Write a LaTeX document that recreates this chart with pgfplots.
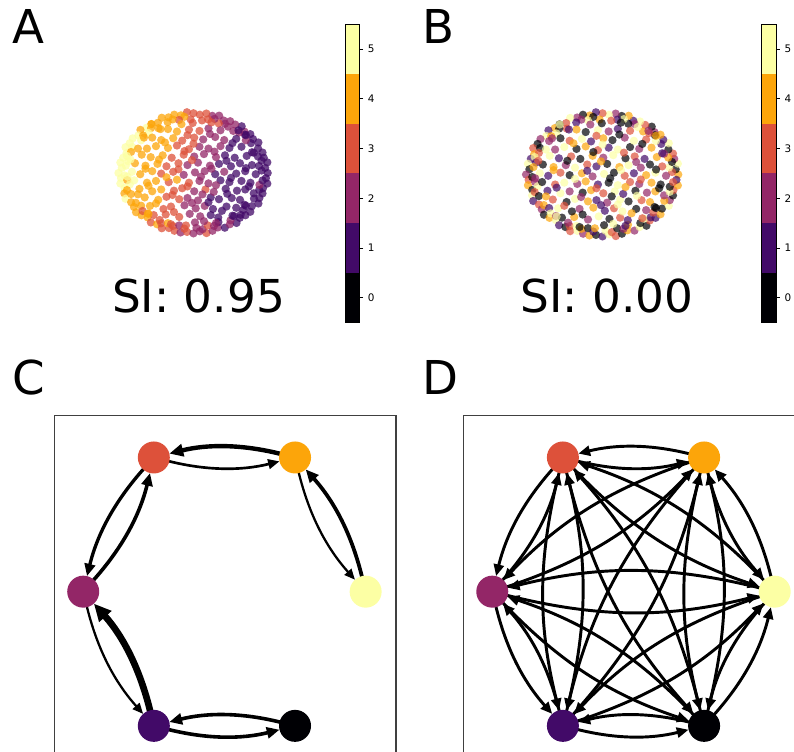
\documentclass[border=0pt]{standalone}
\usepackage{fontspec}
\setmainfont{DejaVu Sans}
\usepackage{pgfplots}
\pgfplotsset{compat=1.18}
\usepackage{pgfplotstable}
\usetikzlibrary{arrows.meta}

% inferno samples used for the six classes
\definecolor{c0}{HTML}{000004}
\definecolor{c1}{HTML}{420A68}
\definecolor{c2}{HTML}{932667}
\definecolor{c3}{HTML}{DD513A}
\definecolor{c4}{HTML}{FCA50A}
\definecolor{c5}{HTML}{FCFFA4}

% embedded points: x y, class in the ordered embedding (a), class in the shuffled one (b)
\pgfplotstableread{
x y a b
0.990 0.000 1 4
0.956 0.084 1 0
0.985 0.174 1 5
0.937 0.251 1 2
0.921 0.335 1 3
0.861 0.402 1 0
0.866 0.500 1 5
0.794 0.557 1 1
0.758 0.637 1 4
0.679 0.679 2 2
0.643 0.766 1 0
0.557 0.794 2 3
0.490 0.849 2 5
0.402 0.861 2 1
0.342 0.940 2 4
0.251 0.937 2 0
0.172 0.975 3 2
0.084 0.956 3 5
0.000 0.980 3 3
-0.087 0.996 3 1
-0.167 0.945 4 4
-0.256 0.956 4 0
-0.332 0.912 4 2
-0.423 0.906 4 5
-0.475 0.823 4 3
-0.562 0.803 4 0
-0.624 0.743 5 4
-0.707 0.707 4 1
-0.735 0.617 5 5
-0.811 0.568 5 2
-0.849 0.490 5 0
-0.906 0.423 5 3
-0.893 0.325 5 4
-0.937 0.251 5 1
-0.975 0.172 5 5
-0.956 0.084 5 0
-1.000 0.000 5 2
-0.966 -0.084 5 3
-0.975 -0.172 5 4
-0.918 -0.246 5 0
-0.921 -0.335 4 5
-0.906 -0.423 5 1
-0.831 -0.480 4 3
-0.794 -0.557 4 2
-0.766 -0.643 4 0
-0.693 -0.693 4 4
-0.611 -0.728 4 5
-0.568 -0.811 3 1
-0.485 -0.840 4 0
-0.423 -0.906 3 3
-0.328 -0.902 3 5
-0.254 -0.947 3 2
-0.172 -0.975 2 4
-0.085 -0.966 3 0
0.000 -0.990 2 1
0.084 -0.956 2 5
0.174 -0.985 3 3
0.254 -0.947 2 0
0.325 -0.893 2 4
0.418 -0.897 1 2
0.485 -0.840 2 5
0.574 -0.819 1 0
0.617 -0.735 1 3
0.693 -0.693 1 1
0.758 -0.636 1 4
0.778 -0.545 1 0
0.866 -0.500 1 5
0.879 -0.410 1 2
0.921 -0.335 1 0
0.927 -0.248 1 3
0.985 -0.174 1 4
0.966 -0.085 1 1
0.909 0.040 1 3
0.872 0.115 1 5
0.908 0.201 1 0
0.859 0.271 1 4
0.804 0.333 1 2
0.767 0.489 1 1
0.698 0.536 2 5
0.685 0.629 1 0
0.608 0.663 2 3
0.530 0.690 2 4
0.420 0.807 2 2
0.337 0.813 3 0
0.280 0.887 2 5
0.194 0.878 3 1
0.114 0.862 3 3
-0.038 0.879 3 4
-0.122 0.922 4 0
-0.192 0.869 3 5
-0.277 0.878 4 2
-0.344 0.832 4 1
-0.467 0.734 4 3
-0.566 0.737 4 0
-0.602 0.656 5 5
-0.671 0.615 4 4
-0.698 0.536 5 2
-0.816 0.425 5 0
-0.832 0.345 4 3
-0.887 0.280 5 5
-0.869 0.192 5 1
-0.902 0.119 5 4
-0.919 -0.040 5 0
-0.882 -0.117 4 2
-0.849 -0.188 5 5
-0.887 -0.280 4 3
-0.832 -0.345 4 0
-0.767 -0.489 4 4
-0.698 -0.536 4 1
-0.678 -0.622 3 5
-0.608 -0.663 4 2
-0.530 -0.690 3 0
-0.430 -0.825 3 3
-0.341 -0.822 4 5
-0.274 -0.868 3 4
-0.190 -0.859 2 0
-0.121 -0.912 3 1
0.039 -0.899 2 5
0.121 -0.922 2 3
0.190 -0.859 3 0
0.274 -0.868 2 2
0.333 -0.804 1 4
0.494 -0.776 2 0
0.542 -0.706 1 5
0.629 -0.685 1 1
0.663 -0.608 1 3
0.698 -0.536 1 0
0.807 -0.420 1 4
0.804 -0.333 1 2
0.877 -0.277 1 5
0.879 -0.195 2 0
0.922 -0.121 1 3
0.02 -0.81 2 0
-0.37 -0.68 3 4
-0.19 -0.72 3 2
-0.05 -0.67 2 5
0.09 -0.71 2 0
0.23 -0.69 1 3
0.33 -0.73 1 1
-0.58 -0.54 4 5
-0.40 -0.59 3 0
-0.30 -0.55 3 2
-0.12 -0.53 2 4
0.03 -0.58 2 1
0.15 -0.54 2 3
0.26 -0.59 1 5
0.44 -0.55 1 0
0.57 -0.57 1 2
-0.65 -0.40 4 3
-0.47 -0.44 4 0
-0.36 -0.39 3 5
-0.19 -0.43 3 4
-0.08 -0.41 2 1
0.06 -0.45 2 2
0.23 -0.40 1 5
0.34 -0.43 1 0
0.51 -0.41 1 3
0.62 -0.44 1 4
-0.72 -0.26 4 1
-0.55 -0.30 4 5
-0.43 -0.27 4 2
-0.26 -0.29 3 0
-0.15 -0.25 3 4
0.01 -0.30 2 3
0.16 -0.27 3 5
0.27 -0.31 2 1
0.43 -0.26 1 0
0.58 -0.29 1 2
0.69 -0.27 1 4
-0.79 -0.12 5 0
-0.62 -0.16 4 3
-0.50 -0.13 4 5
-0.33 -0.15 3 2
-0.22 -0.11 4 4
-0.06 -0.16 3 1
0.08 -0.13 2 0
0.20 -0.17 2 5
0.36 -0.12 1 3
0.48 -0.15 1 2
0.64 -0.13 1 4
0.76 -0.16 1 0
-0.82 0.02 5 5
-0.71 -0.02 4 1
-0.55 0.03 4 3
-0.43 -0.01 3 0
-0.27 0.02 3 4
-0.13 -0.03 2 2
0.02 0.01 2 5
0.15 0.03 2 0
0.29 -0.02 1 3
0.41 0.02 2 1
0.57 -0.01 1 4
0.69 0.03 1 5
0.83 -0.02 1 2
-0.78 0.16 4 0
-0.64 0.12 4 4
-0.48 0.15 4 2
-0.36 0.11 3 5
-0.20 0.16 3 3
-0.08 0.13 2 1
0.06 0.17 2 0
0.22 0.12 2 4
0.34 0.15 1 5
0.50 0.11 1 2
0.62 0.16 1 0
0.78 0.13 1 3
-0.69 0.30 4 5
-0.57 0.26 4 1
-0.41 0.29 4 3
-0.29 0.25 3 0
-0.13 0.30 3 4
0.01 0.27 2 2
0.14 0.31 2 5
0.30 0.26 2 0
0.42 0.29 1 3
0.55 0.25 1 1
0.71 0.28 1 4
-0.62 0.40 4 2
-0.50 0.44 4 5
-0.34 0.41 4 0
-0.22 0.45 3 4
-0.06 0.39 3 3
0.08 0.43 2 1
0.20 0.40 2 5
0.36 0.44 2 0
0.48 0.41 1 2
0.64 0.43 1 4
-0.55 0.58 4 0
-0.43 0.54 4 3
-0.27 0.57 4 5
-0.15 0.53 3 1
0.01 0.58 3 4
0.13 0.55 2 0
0.29 0.59 2 2
0.41 0.54 2 5
0.57 0.56 1 3
-0.34 0.72 4 4
-0.22 0.68 4 0
-0.06 0.71 3 5
0.08 0.69 3 2
0.20 0.73 2 1
0.36 0.70 2 3
-0.01 0.82 3 0
-0.45 -0.77 3 2
0.14 -0.79 2 5
-0.26 -0.64 3 0
0.38 -0.62 1 4
-0.50 -0.50 4 3
-0.02 -0.49 2 1
0.20 -0.48 1 5
0.68 -0.52 1 0
-0.74 -0.35 4 4
-0.28 -0.36 3 2
0.12 -0.35 2 0
0.45 -0.34 1 5
-0.60 -0.21 4 1
-0.08 -0.22 3 3
0.30 -0.20 2 4
0.74 -0.22 1 0
-0.88 -0.06 5 2
-0.36 -0.07 4 5
0.10 -0.06 2 0
0.50 -0.08 1 3
-0.64 0.07 4 4
-0.20 0.06 3 1
0.24 0.07 2 5
0.70 0.08 1 0
-0.84 0.22 5 3
-0.46 0.22 4 0
-0.02 0.21 3 4
0.44 0.20 1 2
-0.74 0.40 4 5
-0.12 0.36 3 0
0.28 0.35 2 3
0.78 0.34 1 1
-0.38 0.50 4 4
0.00 0.48 3 5
0.52 0.49 1 0
-0.66 0.58 4 2
-0.08 0.62 3 3
0.22 0.64 2 0
0.70 0.62 1 4
-0.44 0.72 4 1
0.46 0.76 2 5
-0.16 0.80 4 2
0.24 0.83 3 0
-0.60 -0.67 4 5
0.52 -0.70 1 3
-0.10 -0.86 3 4
0.30 -0.82 2 1
-0.30 -0.84 3 0
0.60 0.70 1 2
-0.56 0.80 4 5
}\pts

% graph nodes on the circular layout
\pgfplotstableread{
id x y
0 0.5 -0.866
1 -0.5 -0.866
2 -1 0
3 -0.5 0.866
4 0.5 0.866
5 1 0
}\gnodes

\pgfplotsset{
  inferno classes/.style={scatter/classes={0={c0},1={c1},2={c2},3={c3},4={c4},5={c5}}},
  cloud/.style={hide axis, scale only axis, clip=false, anchor=center,
    xmin=-1, xmax=1, ymin=-1, ymax=1},
  cbar/.style={scale only axis, anchor=north west, width=11pt, height=223.8pt,
    xmin=0, xmax=1, ymin=-0.5, ymax=5.5, xtick=\empty, ytick={0,...,5},
    ytick pos=right, yticklabel pos=right, tick align=outside,
    major tick length=2.6pt, axis on top,
    axis line style={line width=0.6pt},
    every tick/.style={black, line width=0.6pt},
    yticklabel style={font=\fontsize{7.8}{9}\selectfont},
    /pgf/number format/assume math mode=true},
  graph/.style={scale only axis, anchor=north west, width=256.3pt, height=264.5pt,
    xmin=-1.205, xmax=1.215, ymin=-1.138, ymax=1.138,
    xtick=\empty, ytick=\empty, clip=false,
    axis line style={black!75, line width=0.8pt}},
}
\tikzset{
  edge/.style={-{Triangle[length=5.5pt 1.5, width=4.2pt 1.5]}, shorten >=12pt, shorten <=11pt},
  panel/.style={anchor=base west, inner sep=0pt, font=\fontsize{35}{40}\selectfont},
  score/.style={anchor=base, inner sep=0pt, font=\fontsize{34}{40}\selectfont},
}

\newcommand\colorbarfills{%
  \addplot[fill=c0, draw=none] coordinates {(0,-0.5) (1,-0.5) (1,0.5) (0,0.5)};
  \addplot[fill=c1, draw=none] coordinates {(0,0.5) (1,0.5) (1,1.5) (0,1.5)};
  \addplot[fill=c2, draw=none] coordinates {(0,1.5) (1,1.5) (1,2.5) (0,2.5)};
  \addplot[fill=c3, draw=none] coordinates {(0,2.5) (1,2.5) (1,3.5) (0,3.5)};
  \addplot[fill=c4, draw=none] coordinates {(0,3.5) (1,3.5) (1,4.5) (0,4.5)};
  \addplot[fill=c5, draw=none] coordinates {(0,4.5) (1,4.5) (1,5.5) (0,5.5)};
}

\begin{document}
\begin{tikzpicture}
\path[use as bounding box, clip] (0,0) rectangle (595.5pt,-564pt);

% ---- A: ordered embedding ----
\begin{axis}[cloud, at={(145.1pt,-129.75pt)}, width=112.5pt, height=91.5pt]
  \addplot[scatter, only marks, mark=*, mark size=3.1pt, point meta=explicit symbolic,
    inferno classes, mark options={draw opacity=0, fill opacity=0.75}]
    table[x=x, y=y, meta=a] {\pts};
\end{axis}
\begin{axis}[cbar, at={(258.75pt,-18.2pt)}]
  \colorbarfills
\end{axis}

% ---- B: shuffled embedding ----
\begin{axis}[cloud, at={(451.9pt,-130.9pt)}, width=114.75pt, height=93.75pt]
  \addplot[scatter, only marks, mark=*, mark size=3.1pt, point meta=explicit symbolic,
    inferno classes, mark options={draw opacity=0, fill opacity=0.7}]
    table[x=x, y=y, meta=b] {\pts};
\end{axis}
\begin{axis}[cbar, at={(571.3pt,-18.2pt)}]
  \colorbarfills
\end{axis}

% ---- C: sparse transition graph ----
\begin{axis}[graph, at={(40.7pt,-311.5pt)}]
  \coordinate (n0) at (axis cs:0.5,-0.866);
  \coordinate (n1) at (axis cs:-0.5,-0.866);
  \coordinate (n2) at (axis cs:-1,0);
  \coordinate (n3) at (axis cs:-0.5,0.866);
  \coordinate (n4) at (axis cs:0.5,0.866);
  \coordinate (n5) at (axis cs:1,0);
  \draw[edge, line width=3.3pt] (n4) to[bend right=14] (n3);
  \draw[edge, line width=2pt]   (n3) to[bend right=14] (n4);
  \draw[edge, line width=2.5pt] (n3) to[bend right=14] (n2);
  \draw[edge, line width=2.7pt] (n2) to[bend right=14] (n3);
  \draw[edge, line width=1.7pt] (n4) to[bend right=14] (n5);
  \draw[edge, line width=2.8pt] (n5) to[bend right=14] (n4);
  \draw[edge, line width=1.7pt] (n2) to[bend right=14] (n1);
  \draw[edge, line width=5pt]   (n1) to[bend right=14] (n2);
  \draw[edge, line width=2.7pt] (n0) to[bend right=14] (n1);
  \draw[edge, line width=2.7pt] (n1) to[bend right=14] (n0);
  \addplot[scatter, only marks, mark=*, mark size=12pt, point meta=explicit symbolic,
    inferno classes, mark options={draw opacity=0}]
    table[x=x, y=y, meta=id] {\gnodes};
\end{axis}

% ---- D: dense transition graph ----
\begin{axis}[graph, at={(347.5pt,-311.5pt)}]
  \coordinate (d0) at (axis cs:0.5,-0.866);
  \coordinate (d1) at (axis cs:-0.5,-0.866);
  \coordinate (d2) at (axis cs:-1,0);
  \coordinate (d3) at (axis cs:-0.5,0.866);
  \coordinate (d4) at (axis cs:0.5,0.866);
  \coordinate (d5) at (axis cs:1,0);
  \begin{scope}[line width=2.2pt]
  \draw[edge] (d0) to[bend right=14] (d1);
  \draw[edge] (d0) to[bend right=14] (d2);
  \draw[edge] (d0) to[bend right=14] (d3);
  \draw[edge] (d0) to[bend right=14] (d4);
  \draw[edge] (d0) to[bend right=14] (d5);
  \draw[edge] (d1) to[bend right=14] (d0);
  \draw[edge] (d1) to[bend right=14] (d2);
  \draw[edge] (d1) to[bend right=14] (d3);
  \draw[edge] (d1) to[bend right=14] (d4);
  \draw[edge] (d1) to[bend right=14] (d5);
  \draw[edge] (d2) to[bend right=14] (d0);
  \draw[edge] (d2) to[bend right=14] (d1);
  \draw[edge] (d2) to[bend right=14] (d3);
  \draw[edge] (d2) to[bend right=14] (d4);
  \draw[edge] (d2) to[bend right=14] (d5);
  \draw[edge] (d3) to[bend right=14] (d0);
  \draw[edge] (d3) to[bend right=14] (d1);
  \draw[edge] (d3) to[bend right=14] (d2);
  \draw[edge] (d3) to[bend right=14] (d4);
  \draw[edge] (d3) to[bend right=14] (d5);
  \draw[edge] (d4) to[bend right=14] (d0);
  \draw[edge] (d4) to[bend right=14] (d1);
  \draw[edge] (d4) to[bend right=14] (d2);
  \draw[edge] (d4) to[bend right=14] (d3);
  \draw[edge] (d4) to[bend right=14] (d5);
  \draw[edge] (d5) to[bend right=14] (d0);
  \draw[edge] (d5) to[bend right=14] (d1);
  \draw[edge] (d5) to[bend right=14] (d2);
  \draw[edge] (d5) to[bend right=14] (d3);
  \draw[edge] (d5) to[bend right=14] (d4);
  \end{scope}
  \addplot[scatter, only marks, mark=*, mark size=12pt, point meta=explicit symbolic,
    inferno classes, mark options={draw opacity=0}]
    table[x=x, y=y, meta=id] {\gnodes};
\end{axis}

% ---- panel letters and scores ----
\node[panel] at (9.45pt,-33pt) {A};
\node[panel] at (316.7pt,-33pt) {B};
\node[panel] at (9.45pt,-295.9pt) {C};
\node[panel] at (316.7pt,-295.9pt) {D};
\node[score] at (148.9pt,-234.75pt) {SI: 0.95};
\node[score] at (455.25pt,-234.75pt) {SI: 0.00};
\end{tikzpicture}
\end{document}
